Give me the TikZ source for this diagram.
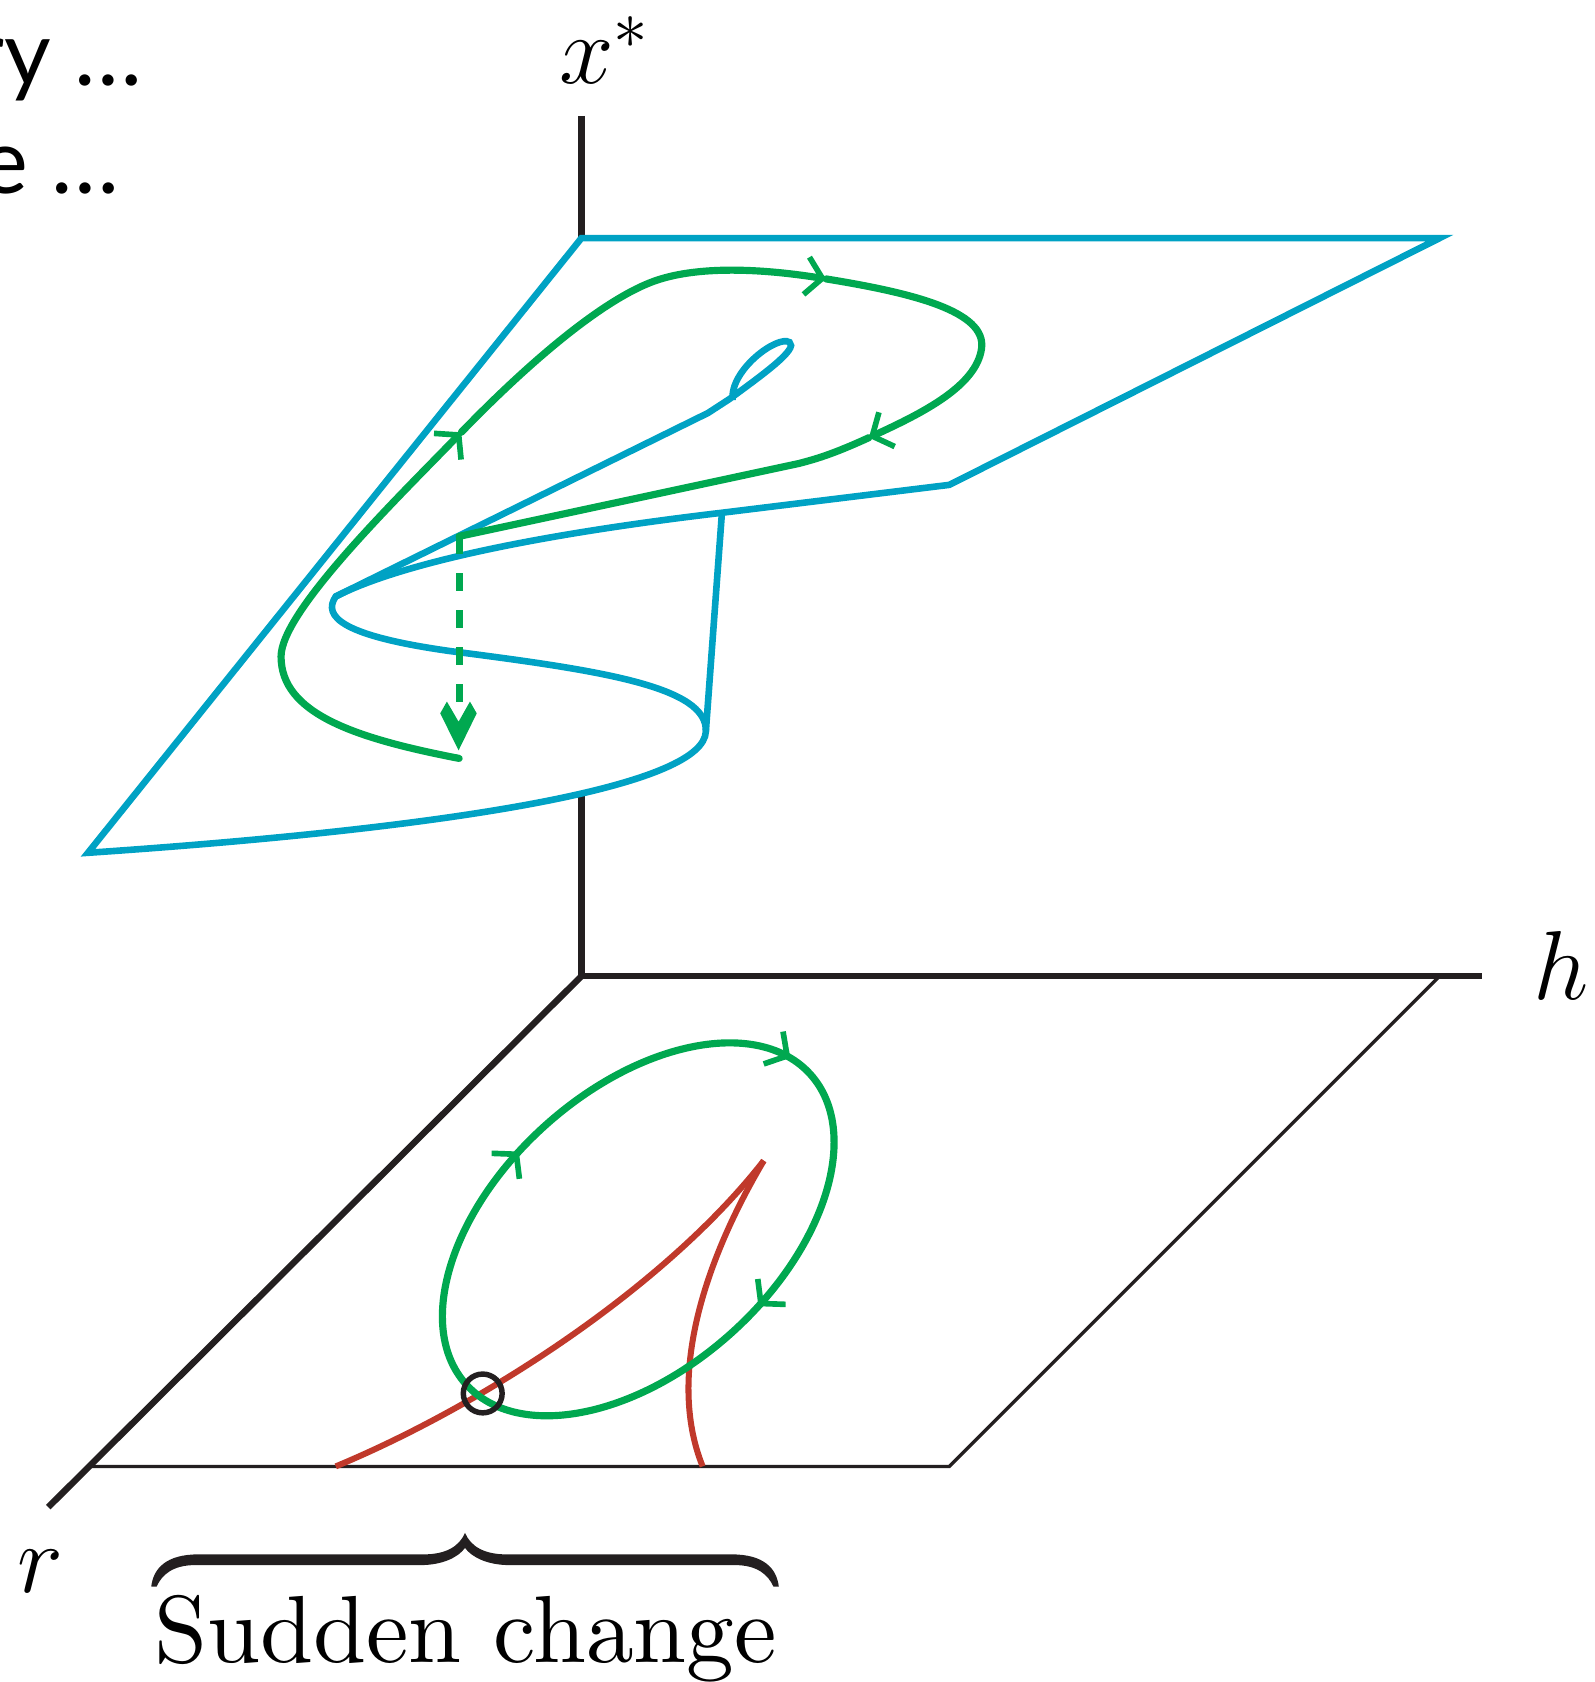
\RequirePackage{fix-cm}
\documentclass[tikz,border=0pt]{standalone}
\usepackage{amsmath}
\usepackage{fontspec}
\newfontfamily\gillfont{Lato}
\newfontfamily\lmten{lmroman10-regular.otf}
\usetikzlibrary{arrows.meta,decorations.markings}
\definecolor{sheetblue}{RGB}{0,162,196}
\definecolor{trajgreen}{RGB}{0,168,80}
\definecolor{cuspred}{RGB}{192,57,43}
\definecolor{axisblack}{RGB}{35,31,32}
\begin{document}
\begin{tikzpicture}[x=0.02cm,y=-0.02cm,
  sheet/.style={draw=sheetblue, line width=3.5pt},
  traj/.style={draw=trajgreen, line width=3.8pt, line cap=round},
  barb/.style={-{Straight Barb[length=8.5pt,width=20pt,line width=3pt]}},
  axisline/.style={draw=axisblack, line width=3.4pt},
  thinplane/.style={draw=axisblack, line width=1.75pt},
  cusp/.style={draw=cuspred, line width=3.2pt},
  lbl/.style={font=\fontsize{52}{62}\selectfont, inner sep=0pt},
  toptext/.style={font=\gillfont\fontsize{48}{56}\selectfont, inner sep=0pt}]
\useasboundingbox (0,0) rectangle (1486,1568);

% coordinates
\coordinate (O) at (542,910);
\coordinate (xtop) at (542,108);
\coordinate (pc) at (542,222);
\coordinate (axemerge) at (542,739);
\coordinate (hend) at (1382,910);
\coordinate (rend) at (45,1405);
\coordinate (bpr) at (1342,910);
\coordinate (bpf) at (885,1367);
\coordinate (bpl) at (85,1367);
\coordinate (tpr) at (1342,222);
\coordinate (tpf) at (885,452);
\coordinate (tpl) at (82,795);
\coordinate (vtop) at (673,478);
\coordinate (vbot) at (658,682);
\coordinate (tip) at (313,556);
\coordinate (fold) at (428,500);
\coordinate (loopin) at (660,385);
\coordinate (dashend) at (428,655);
\coordinate (drop) at (427.5,699.5);

% top text (cut off at left)
\node[toptext, anchor=base east] (t1) at (133,80) {ry …};
\node[toptext, anchor=base east] (t2) at (112,180) {e …};

% axes
\draw[axisline] (xtop) -- (pc);
\draw[axisline] (axemerge) -- (O);
\draw[axisline] (O) -- (hend);
\draw[axisline] (O) -- (rend);
\draw[thinplane] (bpr) -- (bpf) -- (bpl);

% top sheet
\draw[sheet] (pc) -- (tpr) -- (tpf) -- (vtop)
  .. controls (520,496) and (380,522) .. (tip)
  .. controls (300,575) and (320,593) .. (420,607)
  .. controls (560,625) and (660,640) .. (vbot)
  .. controls (656,730) and (450,770) .. (tpl) -- cycle;
\draw[sheet] (vtop) -- (vbot);
\draw[sheet] (tip) -- (loopin) -- (680,372)
  .. controls (710,350) and (745,325) .. (736,319)
  .. controls (725,312) and (680,345) .. (683,373);

% top trajectory
\draw[traj, barb] (428,707) .. controls (330,688) and (262,665) .. (262,612)
  .. controls (262,570) and (370,465) .. (430,403);
\draw[traj, barb] (430,403) .. controls (490,341) and (560,280) .. (610,262)
  .. controls (655,246) and (720,252) .. (770,260);
\draw[traj, barb] (770,260) .. controls (850,273) and (920,290) .. (915,325)
  .. controls (910,360) and (860,385) .. (810,408);
\draw[traj] (810,408) .. controls (775,424) and (760,428) .. (745,432) -- (fold);
% dashed drop with its head
\draw[draw=trajgreen, line width=3.8pt, dash pattern=on 9.35pt off 10.3pt] (fold) -- (dashend);
\fill[trajgreen] (drop) -- (444.4,665) -- (438.1,654) -- (427.5,672.8)
  -- (416.6,654) -- (410.4,665) -- cycle;

% bottom: cusp curves
\coordinate (cuspt) at (712,1082);
\draw[cusp] (313,1367) .. controls (450,1310) and (620,1200) .. (cuspt);
\draw[cusp] (cuspt) .. controls (660,1170) and (620,1280) .. (655,1367);

% bottom trajectory ellipse
\coordinate (ec) at (595,1146);
\draw[traj, rotate around={42:(ec)},
  postaction={decorate},
  decoration={markings,
    mark=at position 0.022 with {\arrowreversed{Straight Barb[length=8.5pt,width=20pt,line width=3pt]}},
    mark=at position 0.281 with {\arrowreversed{Straight Barb[length=8.5pt,width=20pt,line width=3pt]}},
    mark=at position 0.782 with {\arrowreversed{Straight Barb[length=8.5pt,width=20pt,line width=3pt]}}}]
  (ec) ellipse [x radius=4.32cm, y radius=2.6cm];

\node[circle, draw=axisblack, line width=2.9pt, minimum size=20.6pt, inner sep=0pt] (mark) at (450,1299) {};

% labels
\node[lbl, anchor=base] (xstar) at (563,78) {$x^*$};
\node[lbl, anchor=base] (hlbl) at (1455,932) {$h$};
\node[lbl, anchor=base] (rlbl) at (38,1485) {$r$};
\node[font=\lmten\fontsize{50.6}{60}\selectfont, inner sep=0pt, anchor=base] (sudden) at (434,1550)
  {Sudden change};

% brace over the text
\fill[axisblack] (141,1479) .. controls (143,1462) and (155,1449) .. (185,1449)
  -- (395,1449) .. controls (415,1449) and (428,1442) .. (433.5,1429)
  .. controls (439,1442) and (452,1449) .. (472,1449)
  -- (682,1449) .. controls (712,1449) and (724,1462) .. (726,1479)
  -- (721,1479) .. controls (716,1468) and (706,1459) .. (685,1459)
  -- (475,1459) .. controls (455,1459) and (440,1452) .. (433.5,1443)
  .. controls (427,1452) and (412,1459) .. (392,1459)
  -- (182,1459) .. controls (161,1459) and (151,1468) .. (146,1479) -- cycle;
\end{tikzpicture}
\end{document}
